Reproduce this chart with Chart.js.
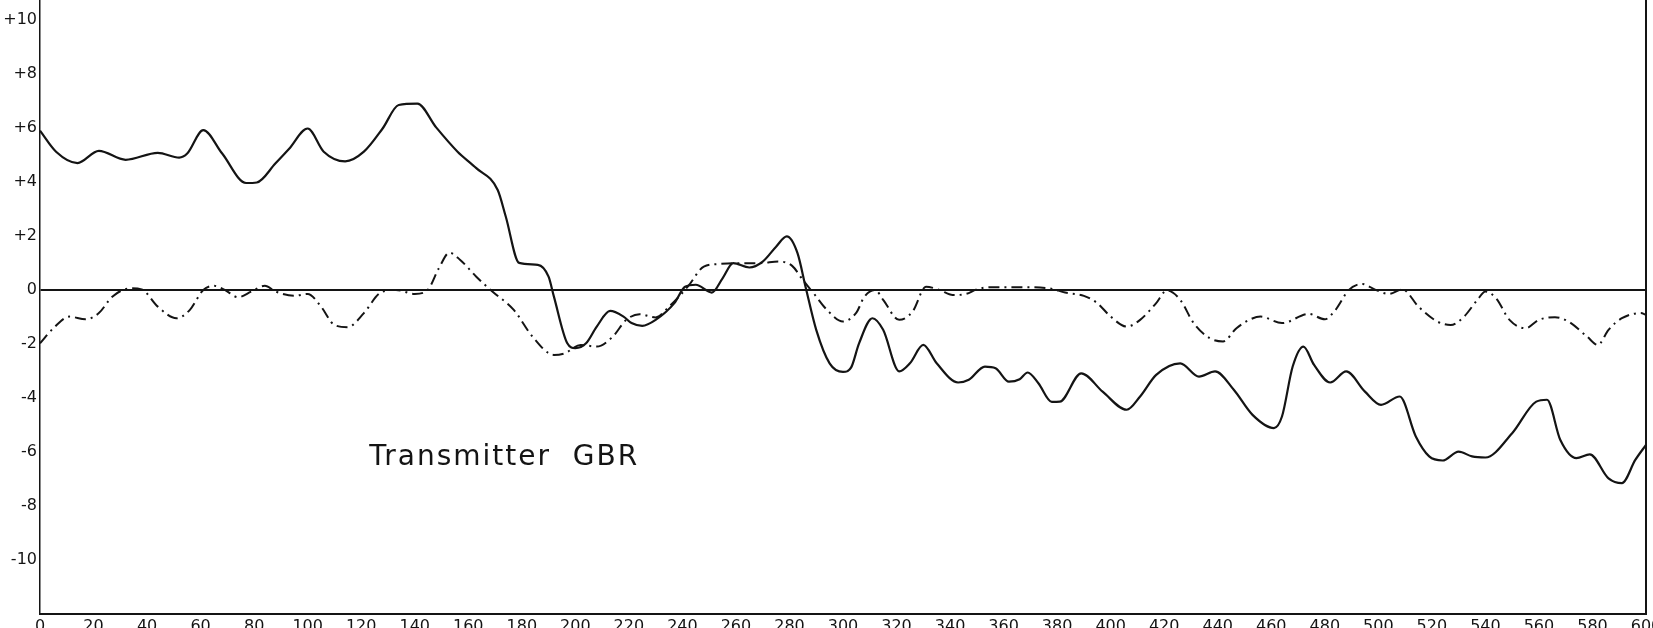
<!DOCTYPE html>
<html>
<head>
<meta charset="utf-8">
<script src="https://cdn.jsdelivr.net/npm/chart.js@4.4.1/dist/chart.umd.min.js"></script>
<style>
  html, body { margin: 0; padding: 0; background: #fff; overflow: hidden; }
  #wrap { width: 1653px; height: 639px; position: relative; }
</style>
</head>
<body>
<div id="wrap"><canvas id="chart"></canvas></div>
<script>
// solid trace
var solidX = [0, 6, 14, 22, 32, 44, 52, 55, 61, 68, 77, 81, 88, 93, 100, 106, 114, 121, 128, 134,
  141, 148, 156, 163, 171, 174, 179, 186, 190, 192, 197, 200, 204, 208, 213, 218, 221, 225, 230, 237,
  241, 245, 251, 255, 259, 265, 270, 275, 279, 283, 286, 290, 295, 300, 303, 306, 311, 315, 321, 325,
  330, 335, 343, 347, 353, 357, 362, 366, 369, 373, 378, 381, 389, 397, 406, 411, 417, 426, 433, 439,
  446, 453, 461, 464, 468, 472, 476, 482, 488, 495, 501, 508, 514, 519, 524, 530, 535, 540, 550, 559,
  563, 568, 574, 579, 586, 591, 596, 600];
var solidY = [5.9, 5.12, 4.7, 5.15, 4.82, 5.08, 4.9, 5.05, 5.92, 5.06, 3.96, 3.98, 4.69, 5.22, 5.98, 5.12, 4.76, 5.12, 5.98, 6.85,
  6.9, 6.02, 5.12, 4.51, 3.7, 2.72, 1.0, 0.93, 0.49, -0.25, -1.98, -2.16, -1.98, -1.36, -0.78, -0.99, -1.23, -1.33, -1.11, -0.49,
  0.12, 0.19, -0.1, 0.43, 0.99, 0.83, 1.05, 1.6, 1.98, 1.36, 0.12, -1.48, -2.72, -3.04, -2.88, -1.98, -1.05, -1.48, -3.02, -2.72,
  -2.04, -2.72, -3.43, -3.33, -2.84, -2.9, -3.4, -3.31, -3.06, -3.46, -4.15, -4.14, -3.09, -3.77, -4.44, -3.95, -3.15, -2.72, -3.21, -3.02,
  -3.7, -4.63, -5.12, -4.69, -2.84, -2.1, -2.78, -3.43, -3.02, -3.77, -4.26, -3.95, -5.43, -6.17, -6.32, -5.99, -6.17, -6.21, -5.31, -4.14,
  -4.07, -5.56, -6.23, -6.09, -6.98, -7.16, -6.3, -5.74];

// dash-dot trace
var dashX = [0, 5, 11, 17, 22, 27, 34, 38, 44, 51, 56, 61, 65, 69, 74, 79, 84, 88, 95, 100,
  105, 110, 115, 121, 127, 133, 140, 145, 149, 153, 157, 163, 169, 177, 184, 192, 196, 202, 208, 214,
  219, 224, 230, 235, 242, 248, 254, 260, 269, 276, 281, 285, 289, 294, 300, 305, 308, 312, 315, 321,
  326, 331, 336, 341, 346, 350, 355, 367, 377, 383, 390, 395, 400, 406, 411, 417, 421, 426, 431, 437,
  442, 447, 452, 456, 464, 474, 480, 484, 489, 494, 499, 504, 509, 515, 522, 527, 532, 537, 540, 544,
  549, 555, 560, 566, 571, 578, 582, 586, 591, 598, 600];
var dashY = [-1.98, -1.42, -0.99, -1.09, -0.86, -0.25, 0.06, 0.02, -0.62, -1.05, -0.74, 0, 0.15, 0, -0.27, -0.06, 0.15, -0.06, -0.22, -0.15,
  -0.62, -1.3, -1.38, -0.86, -0.12, 0, -0.15, 0.02, 0.8, 1.38, 1.11, 0.49, -0.06, -0.74, -1.73, -2.41, -2.35, -2.04, -2.1, -1.73,
  -1.11, -0.9, -1.02, -0.62, 0.12, 0.86, 0.96, 0.99, 0.99, 1.05, 0.89, 0.37, -0.12, -0.74, -1.17, -0.84, -0.25, 0, -0.37, -1.11,
  -0.8, 0.12, 0, -0.19, -0.15, 0.02, 0.1, 0.1, 0.06, -0.1, -0.22, -0.49, -0.99, -1.36, -1.11, -0.49, -0.02, -0.37, -1.23, -1.79,
  -1.91, -1.42, -1.1, -0.99, -1.23, -0.89, -1.09, -0.74, 0, 0.22, 0, -0.15, 0.02, -0.62, -1.17, -1.3, -0.99, -0.37, -0.06, -0.31,
  -1.11, -1.42, -1.11, -1.01, -1.17, -1.73, -2.04, -1.48, -1.05, -0.86, -0.92];

var xTicks = [0, 20, 40, 60, 80, 100, 120, 140, 160, 180, 200, 220, 240, 260, 280, 300,
  320, 340, 360, 380, 400, 420, 440, 460, 480, 500, 520, 540, 560, 580, 600];
var yTicks = [10, 8, 6, 4, 2, 0, -2, -4, -6, -8, -10];
var yTickLabels = ["+10", "+8", "+6", "+4", "+2", "0", "-2", "-4", "-6", "-8", "-10"];
var caption = "Transmitter  GBR";

function toPoints(xs, ys) {
  var pts = [];
  for (var i = 0; i < xs.length; i++) {
    pts.push({ x: xs[i], y: ys[i] });
  }
  return pts;
}

var ink = "#141414";

// right frame line and the caption
var extras = {
  id: "extras",
  afterDraw: function (chart) {
    var ctx = chart.ctx;
    var area = chart.chartArea;
    ctx.save();
    ctx.strokeStyle = ink;
    ctx.lineWidth = 2;
    ctx.beginPath();
    ctx.moveTo(area.right, area.top);
    ctx.lineTo(area.right, area.bottom);
    ctx.stroke();

    ctx.fillStyle = ink;
    ctx.font = "28px 'DejaVu Sans'";
    ctx.letterSpacing = "2px";
    ctx.textBaseline = "middle";
    ctx.textAlign = "left";
    ctx.fillText(caption, chart.scales.x.getPixelForValue(123), chart.scales.y.getPixelForValue(-6.2));
    ctx.restore();
  }
};

var ctx1 = document.getElementById("chart");
var chart1 = new Chart(ctx1, {
  type: "line",
  data: {
    datasets: [{
      label: "solid",
      data: toPoints(solidX, solidY),
      borderColor: ink,
      borderWidth: 2.2,
      pointRadius: 0,
      cubicInterpolationMode: "monotone",
      fill: false
    }, {
      label: "dash-dot",
      data: toPoints(dashX, dashY),
      borderColor: ink,
      borderWidth: 2,
      borderDash: [11, 5, 2, 5],
      pointRadius: 0,
      cubicInterpolationMode: "monotone",
      fill: false
    }]
  },
  options: {
    responsive: true,
    maintainAspectRatio: false,
    animation: false,
    devicePixelRatio: 1,
    layout: { padding: { top: 0, left: 0, right: 7, bottom: 0 } },
    plugins: {
      legend: { display: false },
      tooltip: { enabled: false }
    },
    scales: {
      x: {
        type: "linear",
        min: 0,
        max: 600,
        afterBuildTicks: function (scale) {
          scale.ticks = xTicks.map(function (v) { return { value: v }; });
        },
        afterFit: function (scale) {
          scale.paddingLeft = 0;
          scale.paddingRight = 0;
        },
        grid: { display: false, drawTicks: false },
        border: { display: true, color: ink, width: 2 },
        ticks: {
          color: ink,
          padding: 3,
          maxRotation: 0,
          autoSkip: false,
          font: { family: "'DejaVu Sans'", size: 16 }
        }
      },
      y: {
        type: "linear",
        min: -12,
        max: 10.74,
        afterBuildTicks: function (scale) {
          scale.ticks = yTicks.map(function (v) { return { value: v }; });
        },
        afterFit: function (scale) {
          scale.width = 40;
          scale.paddingTop = 0;
          scale.paddingBottom = 0;
        },
        grid: {
          drawTicks: false,
          color: function (c) { return c.tick && c.tick.value === 0 ? ink : "rgba(0,0,0,0)"; },
          lineWidth: function (c) { return c.tick && c.tick.value === 0 ? 2 : 0; }
        },
        border: { display: true, color: ink, width: 1.5 },
        ticks: {
          color: ink,
          padding: 3,
          font: { family: "'DejaVu Sans'", size: 16 },
          callback: function (value) {
            var i = yTicks.indexOf(value);
            return i >= 0 ? yTickLabels[i] : "";
          }
        }
      }
    }
  },
  plugins: [extras]
});
</script>
</body>
</html>
